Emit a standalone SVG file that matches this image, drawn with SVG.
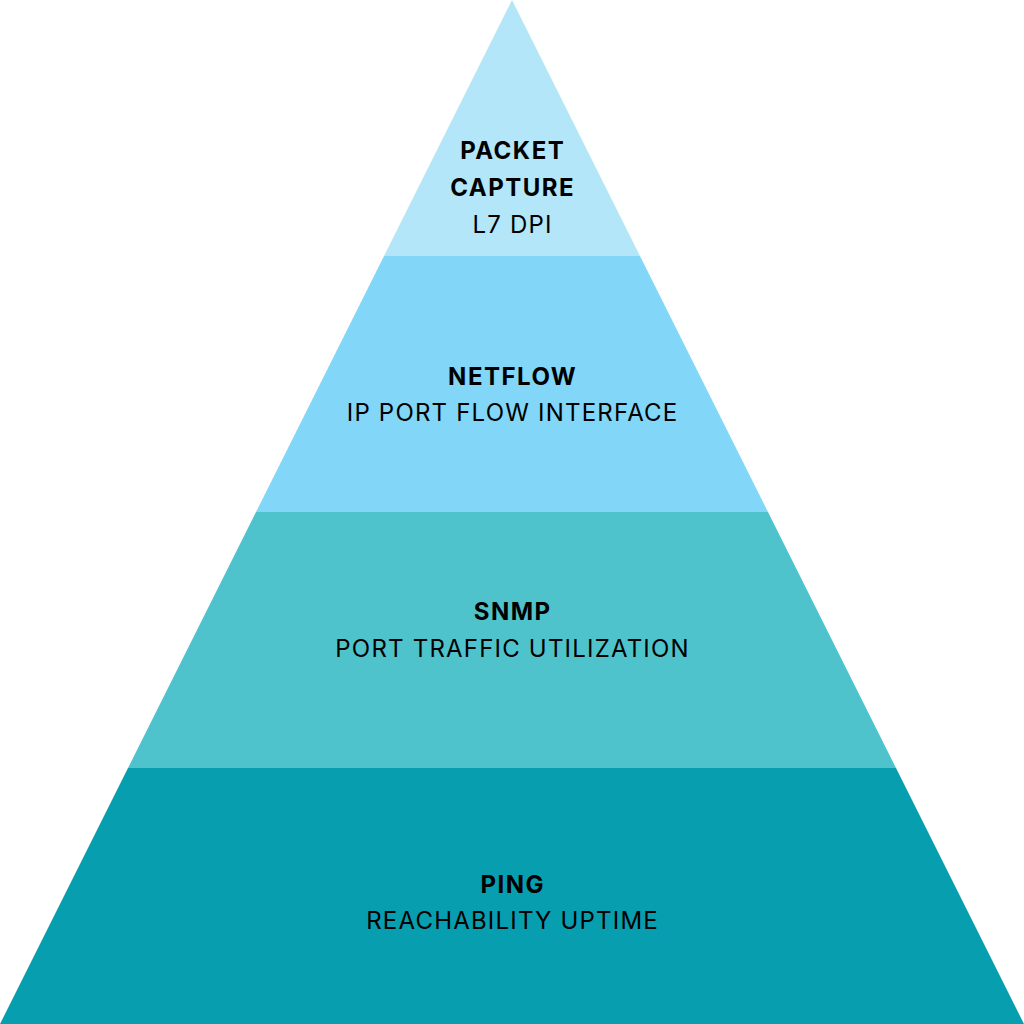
<svg xmlns="http://www.w3.org/2000/svg" width="1024" height="1024" viewBox="0 0 1024 1024">
<style>
.t{font-family:Inter,"Open Sans",sans-serif;font-size:24px;fill:#000;text-anchor:middle;letter-spacing:1.2px}
.b{font-weight:bold;letter-spacing:1.5px}
</style>
<rect width="1024" height="1024" fill="#fff"/>
<g id="packet-capture">
<polygon points="512,0 640,256 384,256" fill="#B3E6F8"/>
<text class="t b" x="512.7" y="159">PACKET</text>
<text class="t b" x="512.7" y="196">CAPTURE</text>
<text class="t" x="512.6" y="233">L7 DPI</text>
</g>
<g id="netflow">
<polygon points="384,256 640,256 768,512 256,512" fill="#82D6F7"/>
<text class="t b" x="512.7" y="385">NETFLOW</text>
<text class="t" x="512.6" y="421">IP PORT FLOW INTERFACE</text>
</g>
<g id="snmp">
<polygon points="256,512 768,512 896,768 128,768" fill="#4FC3CC"/>
<text class="t b" x="512.7" y="620">SNMP</text>
<text class="t" x="512.6" y="657">PORT TRAFFIC UTILIZATION</text>
</g>
<g id="ping">
<polygon points="128,768 896,768 1024,1024 0,1024" fill="#079EAF"/>
<text class="t b" x="512.7" y="893">PING</text>
<text class="t" x="512.6" y="929">REACHABILITY UPTIME</text>
</g>
<g id="connectors"/>
</svg>
